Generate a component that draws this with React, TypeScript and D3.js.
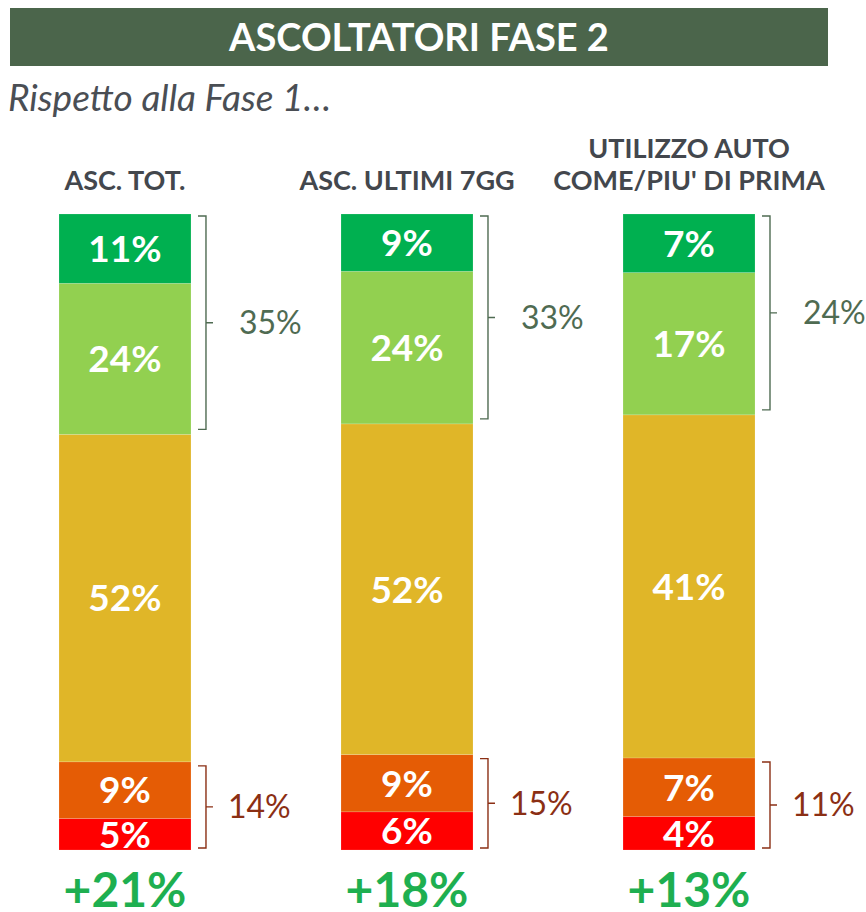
import * as d3 from "d3";
import { useEffect, useRef } from "react";

// data
const groups = ["ASC. TOT.", "ASC. ULTIMI 7GG", "UTILIZZO AUTO\nCOME/PIU' DI PRIMA"];
const keys = ["molto", "poco", "uguale", "menoPoco", "menoMolto"];
const molto = [11, 9, 7];
const poco = [24, 24, 17];
const uguale = [52, 52, 41];
const menoPoco = [9, 9, 7];
const menoMolto = [5, 6, 4];
const topTotals = [35, 33, 24];
const bottomTotals = [14, 15, 11];
const netLabels = ["+21%", "+18%", "+13%"];

const colors = {
  molto: "#00b050",
  poco: "#92d050",
  uguale: "#e0b628",
  menoPoco: "#e55c05",
  menoMolto: "#ff0000",
};

const App = () => {
  const ref = useRef<SVGSVGElement | null>(null);

  useEffect(() => {
    const width = 866,
      height = 912,
      top = 214,
      bottom = 850;

    const svg = d3.select(ref.current);
    svg.selectAll("*").remove();

    const rows = groups.map((g, i) => ({
      group: g,
      molto: molto[i],
      poco: poco[i],
      uguale: uguale[i],
      menoPoco: menoPoco[i],
      menoMolto: menoMolto[i],
    }));

    const x = d3.scaleBand().domain(groups).range([59, 755]).paddingInner(0.532).paddingOuter(0);
    const y = d3.scaleLinear().domain([0, 1]).range([bottom, top]);

    // every bar is scaled to its own total
    const stack = d3
      .stack<any>()
      .keys([...keys].reverse())
      .offset(d3.stackOffsetExpand);
    const series = stack(rows);

    // title bar
    svg.append("rect").attr("x", 10).attr("y", 8).attr("width", 818).attr("height", 58).attr("fill", "#4b654b");
    svg
      .append("text")
      .attr("x", 419)
      .attr("y", 51)
      .attr("text-anchor", "middle")
      .attr("font-family", "Lato")
      .attr("font-weight", "bold")
      .attr("font-size", 38)
      .attr("fill", "#fff")
      .text("ASCOLTATORI FASE 2");

    svg
      .append("text")
      .attr("x", 8)
      .attr("y", 111)
      .attr("font-family", "Lato")
      .attr("font-style", "italic")
      .attr("font-size", 37)
      .attr("fill", "#4a4e54")
      .text("Rispetto alla Fase 1…");

    // group headers
    svg
      .append("g")
      .selectAll("text")
      .data(groups)
      .enter()
      .append("text")
      .attr("text-anchor", "middle")
      .attr("font-family", "Lato")
      .attr("font-weight", "bold")
      .attr("font-size", 27)
      .attr("fill", "#43474d")
      .each(function (d) {
        const lines = d.split("\n");
        const cx = x(d)! + x.bandwidth() / 2;
        lines.forEach((l, j) => {
          d3.select(this)
            .append("tspan")
            .attr("x", cx)
            .attr("y", 190 - (lines.length - 1 - j) * 32)
            .text(l);
        });
      });

    // stacked bars
    const layer = svg
      .append("g")
      .selectAll("g")
      .data(series)
      .enter()
      .append("g")
      .attr("fill", (s: any) => (colors as any)[s.key]);

    layer
      .selectAll("rect")
      .data((s: any) => s.map((p: any) => ({ p, key: s.key })))
      .enter()
      .append("rect")
      .attr("x", (d: any) => x(d.p.data.group)!)
      .attr("width", x.bandwidth())
      .attr("y", (d: any) => y(d.p[1]))
      .attr("height", (d: any) => y(d.p[0]) - y(d.p[1]))
      .attr("stroke", "#fff")
      .attr("stroke-opacity", 0.25)
      .attr("stroke-width", 0.6);

    layer
      .selectAll("text")
      .data((s: any) => s.map((p: any) => ({ p, key: s.key })))
      .enter()
      .append("text")
      .attr("x", (d: any) => x(d.p.data.group)! + x.bandwidth() / 2)
      .attr("y", (d: any) => (y(d.p[0]) + y(d.p[1])) / 2)
      .attr("dy", "0.36em")
      .attr("text-anchor", "middle")
      .attr("font-family", "Lato")
      .attr("font-weight", "bold")
      .attr("font-size", 37)
      .attr("fill", "#fff")
      .text((d: any) => d.p.data[d.key] + "%");

    // brackets
    const byKey = (k: string) => series.find((s) => s.key === k)!;
    const bracket = (x0: number, y0: number, y1: number) => {
      const xv = x0 + 15,
        ym = (y0 + y1) / 2;
      return `M${x0 + 7},${y0}H${xv}V${y1}H${x0 + 7}M${xv},${ym}H${xv + 7}`;
    };

    groups.forEach((g, i) => {
      const x0 = x(g)! + x.bandwidth();
      const t0 = y(byKey("molto")[i][1]) + 2,
        t1 = y(byKey("poco")[i][0]) - 5;
      const b0 = y(byKey("menoPoco")[i][1]) + 4,
        b1 = y(byKey("menoMolto")[i][0]) - 2;

      svg
        .append("path")
        .attr("d", bracket(x0, t0, t1))
        .attr("fill", "none")
        .attr("stroke", "#4f6b52")
        .attr("stroke-width", 1.4);
      svg
        .append("text")
        .attr("x", x0 + 48)
        .attr("y", (t0 + t1) / 2)
        .attr("dy", "0.36em")
        .attr("font-family", "Lato")
        .attr("font-size", 32)
        .attr("fill", "#4f6b52")
        .text(topTotals[i] + "%");

      svg
        .append("path")
        .attr("d", bracket(x0, b0, b1))
        .attr("fill", "none")
        .attr("stroke", "#8b2f14")
        .attr("stroke-width", 1.4);
      svg
        .append("text")
        .attr("x", x0 + 37)
        .attr("y", (b0 + b1) / 2)
        .attr("dy", "0.36em")
        .attr("font-family", "Lato")
        .attr("font-size", 32)
        .attr("fill", "#8b2f14")
        .text(bottomTotals[i] + "%");

      svg
        .append("text")
        .attr("x", x(g)! + x.bandwidth() / 2)
        .attr("y", 907)
        .attr("text-anchor", "middle")
        .attr("font-family", "Lato")
        .attr("font-weight", "bold")
        .attr("font-size", 48)
        .attr("fill", "#1eaf50")
        .text(netLabels[i]);
    });

    svg.attr("width", width).attr("height", height);
  }, []);

  return (
    <svg
      ref={ref}
      width={866}
      height={912}
      style={{ position: "absolute", left: 0, top: 0, background: "#fff" }}
    />
  );
};

export default App;
